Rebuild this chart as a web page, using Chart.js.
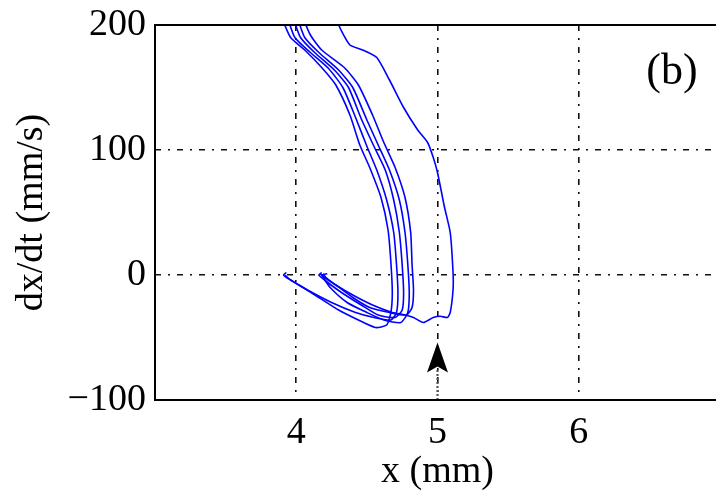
<!DOCTYPE html>
<html>
<head>
<meta charset="utf-8">
<script src="https://cdn.jsdelivr.net/npm/chart.js@4.4.0/dist/chart.umd.min.js"></script>
<style>
  html, body { margin:0; padding:0; background:#fff; overflow:hidden; }
  #wrap { width:740px; height:491px; }
</style>
</head>
<body>
<div id="wrap"><canvas id="c" width="740" height="491"></canvas></div>
<script>
// phase-plane traces, [x (mm), dx/dt (mm/s)]
const traceA = [[3.90,205],[3.96,190],[4.06,180],[4.18,166],[4.28,152],[4.38,128],[4.45,104],[4.52,86],[4.60,62],[4.65,36],[4.67,10],[4.68,-14],[4.67,-30],[4.64,-40],[4.56,-42],[4.44,-36],[4.30,-28],[4.16,-18],[4.02,-8],[3.93,-2],[3.91,0],[3.93,2]];
const traceB = [[3.94,205],[3.99,190],[4.10,178],[4.23,165],[4.33,150],[4.42,126],[4.50,103],[4.57,84],[4.64,60],[4.69,34],[4.71,8],[4.72,-14],[4.71,-30],[4.67,-36],[4.55,-34],[4.42,-30],[4.25,-22],[4.08,-12],[3.96,-4],[3.92,0]];
const traceC = [[3.98,205],[4.03,190],[4.13,178],[4.27,164],[4.37,150],[4.46,125],[4.55,103],[4.63,84],[4.69,60],[4.73,34],[4.75,8],[4.76,-14],[4.75,-28],[4.70,-34],[4.58,-32],[4.46,-24],[4.32,-14],[4.20,-4],[4.16,0],[4.18,2]];
const traceD = [[4.01,205],[4.06,190],[4.16,178],[4.30,164],[4.40,150],[4.50,124],[4.58,104],[4.66,84],[4.73,60],[4.77,34],[4.79,8],[4.80,-14],[4.79,-30],[4.74,-38],[4.62,-36],[4.50,-30],[4.36,-22],[4.24,-10],[4.19,-2],[4.18,0],[4.22,1]];
const traceE = [[4.05,205],[4.10,192],[4.18,180],[4.34,166],[4.44,152],[4.54,128],[4.62,106],[4.70,86],[4.77,62],[4.81,34],[4.82,8],[4.83,-12],[4.82,-26],[4.78,-32],[4.66,-30],[4.52,-26],[4.40,-18],[4.28,-8],[4.21,-2],[4.19,1]];
const traceF = [[4.28,210],[4.30,200],[4.38,184],[4.47,180],[4.57,174],[4.66,156],[4.76,134],[4.86,116],[4.93,106],[4.97,94],[5.00,82],[5.05,54],[5.09,34],[5.11,2],[5.11,-12],[5.09,-30],[5.07,-34],[5.02,-33],[4.97,-34],[4.90,-38],[4.83,-34],[4.77,-32],[4.68,-30],[4.54,-24],[4.40,-16],[4.28,-8],[4.20,-2],[4.17,1]];
const traces = [traceA, traceB, traceC, traceD, traceE, traceF];

const xTicks = [4, 5, 6];
const yTicks = [-100, 0, 100, 200];
const xRange = [3, 7];
const yRange = [-100, 200];

// arrow marking x = 5 mm
const arrowX = 5;
const arrowTail = -100;
const arrowTip = -54;

const panelLabel = { text:'(b)', x:6.66, y:162 };

const SERIF = "'Liberation Serif', 'DejaVu Serif', serif";
Chart.defaults.font.family = SERIF;
Chart.defaults.color = '#000';

const frame = {
  id:'frame',
  afterDraw(chart) {
    const {ctx, chartArea:a, scales:{x, y}} = chart;
    ctx.save();
    // axes box
    ctx.strokeStyle = '#000'; ctx.lineWidth = 2;
    ctx.strokeRect(a.left, a.top, a.right - a.left, a.bottom - a.top);
    // arrow head
    const px = x.getPixelForValue(arrowX), tip = y.getPixelForValue(arrowTip);
    ctx.fillStyle = '#000';
    ctx.beginPath();
    ctx.moveTo(px, tip);
    ctx.lineTo(px + 10.5, tip + 30);
    ctx.lineTo(px, tip + 24);
    ctx.lineTo(px - 10.5, tip + 30);
    ctx.closePath();
    ctx.fill();
    // panel label
    ctx.font = '44px ' + SERIF;
    ctx.textAlign = 'center'; ctx.textBaseline = 'middle';
    ctx.fillText(panelLabel.text, x.getPixelForValue(panelLabel.x), y.getPixelForValue(panelLabel.y));
    ctx.restore();
  }
};

const datasets = traces.map(t => ({
  data: t.map(([x, v]) => ({x, y:v})),
  showLine:true, borderColor:'#0000ff', borderWidth:1.6,
  pointRadius:0, tension:0.2, fill:false
}));
datasets.push({
  data:[{x:arrowX, y:arrowTail}, {x:arrowX, y:arrowTip - 22}],
  showLine:true, borderColor:'#555', borderWidth:2.2, borderDash:[2,2],
  pointRadius:0, fill:false
});

new Chart(document.getElementById('c'), {
  type:'scatter',
  data:{ datasets },
  options:{
    responsive:false, animation:false,
    layout:{ padding:{ top:25, right:20, left:0, bottom:0 } },
    plugins:{ legend:{display:false}, tooltip:{enabled:false} },
    scales:{
      x:{
        min:xRange[0], max:xRange[1],
        afterBuildTicks:s => { s.ticks = xTicks.map(v => ({value:v})); },
        afterFit:s => { s.height = 91; s.paddingLeft = 0; s.paddingRight = 0; },
        grid:{ color:'#111', lineWidth:1.6, drawTicks:false },
        border:{ display:false, dash:[6,7,2,7] },
        ticks:{ font:{size:38}, padding:10, color:'#000' },
        title:{ display:true, text:'x (mm)', font:{size:38, lineHeight:1}, padding:{top:0, bottom:0}, color:'#000' }
      },
      y:{
        min:yRange[0], max:yRange[1],
        afterBuildTicks:s => { s.ticks = yTicks.map(v => ({value:v})); },
        afterFit:s => { s.width = 155; s.paddingTop = 0; s.paddingBottom = 0; },
        grid:{ color:'#111', lineWidth:1.6, drawTicks:false },
        border:{ display:false, dash:[6,7,2,7] },
        ticks:{ font:{size:38}, padding:9, color:'#000',
          callback:v => v < 0 ? '\u2212' + Math.abs(v) : String(v) },
        title:{ display:true, text:'dx/dt (mm/s)', font:{size:38, lineHeight:1}, padding:{top:13, bottom:0}, color:'#000' }
      }
    }
  },
  plugins:[frame]
});
</script>
</body>
</html>
